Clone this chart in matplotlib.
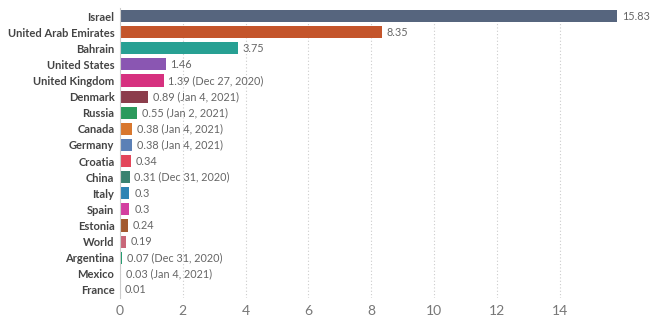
import matplotlib
matplotlib.use("Agg")
import matplotlib.pyplot as plt

countries = ["Israel", "United Arab Emirates", "Bahrain", "United States",
             "United Kingdom", "Denmark", "Russia", "Canada", "Germany",
             "Croatia", "China", "Italy", "Spain", "Estonia", "World",
             "Argentina", "Mexico", "France"]
values = [15.83, 8.35, 3.75, 1.46, 1.39, 0.89, 0.55, 0.38, 0.38,
          0.34, 0.31, 0.3, 0.3, 0.24, 0.19, 0.07, 0.03, 0.01]
notes = ["", "", "", "", " (Dec 27, 2020)", " (Jan 4, 2021)", " (Jan 2, 2021)",
         " (Jan 4, 2021)", " (Jan 4, 2021)", "", " (Dec 31, 2020)", "", "", "",
         "", " (Dec 31, 2020)", " (Jan 4, 2021)", ""]
colors = ["#56657e", "#c4552b", "#27a093", "#8a56b2", "#d6317f", "#8c3d4c",
          "#2b9a5c", "#d8772e", "#5b80b6", "#e3465a", "#3b8270", "#2f84b3",
          "#d33f9f", "#a35a30", "#c96779", "#1c9c6c", "#b89ca4", "#c9bcbc"]

fig = plt.figure(figsize=(6.51, 3.2), dpi=100)
ax = fig.add_axes([120 / 651, 22 / 320, 518 / 651, 290 / 320])

ypos = list(range(len(countries)))
ax.barh(ypos, values, height=0.75, color=colors, zorder=2)
for y, v, n in zip(ypos, values, notes):
    ax.text(v + 0.15, y, f"{v:g}{n}", va="center", ha="left",
            fontsize=7.8, color="#666666", family="Lato")

ax.set_xlim(0, 16.5)
ax.set_ylim(17.5, -0.5)
ax.set_yticks(ypos)
ax.set_yticklabels(countries, fontsize=8, fontweight="bold",
                   color="#444444", family="Lato")
ax.set_xticks(range(0, 15, 2))
ax.tick_params(axis="x", labelsize=10, labelcolor="#777777", length=0, pad=5)
ax.tick_params(axis="y", length=0, pad=4)
for lab in ax.get_xticklabels():
    lab.set_family("Lato")

ax.grid(axis="x", linestyle=(0, (1, 2)), color="#cccccc", linewidth=0.8, zorder=0)
for s in ["top", "right", "bottom"]:
    ax.spines[s].set_visible(False)
ax.spines["left"].set_color("#cccccc")
ax.spines["left"].set_linewidth(0.8)

fig.savefig("out.png", dpi=100)
